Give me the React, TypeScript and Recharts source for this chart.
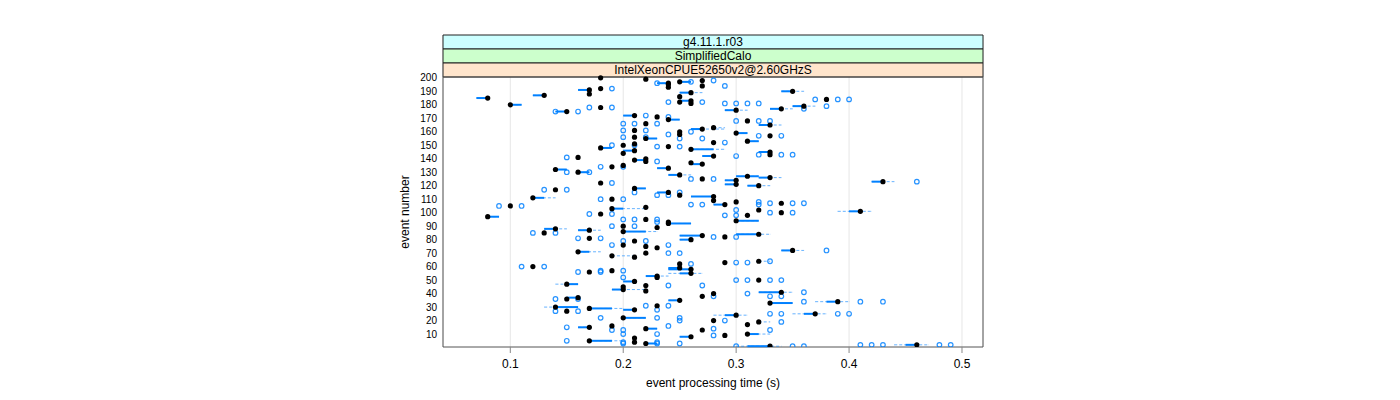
import {
  ScatterChart,
  Scatter,
  XAxis,
  YAxis,
  CartesianGrid,
  ReferenceArea,
  ErrorBar,
  Label,
} from "recharts";

const timeTicks = [0.1, 0.2, 0.3, 0.4, 0.5];
const eventTicks = [10, 20, 30, 40, 50, 60, 70, 80, 90, 100, 110, 120, 130, 140, 150, 160, 170, 180, 190, 200];

// top to bottom
const stripLabels = ["g4.11.1.r03", "SimplifiedCalo", "IntelXeonCPUE52650v2@2.60GHzS"];
const stripColors = ["#ccffff", "#ccffcc", "#ffe5cc"];

// [event, median, boxLow?, boxHigh?, whiskerLow?, whiskerHigh?]
const eventStats: number[][] = [
  [200, 0.18], [199, 0.22], [198, 0.27], [197, 0.25, 0.25, 0.26], [196, 0.24, 0.23, 0.24],
  [195, 0.24], [194, 0.27], [193, 0.24], [192, 0.18], [191, 0.17, 0.16, 0.17],
  [190, 0.35, 0.34, 0.35, 0.34, 0.36], [189, 0.26, 0.25, 0.26, 0.25, 0.27], [188, 0.17],
  [187, 0.13, 0.12, 0.13], [186, 0.25], [185, 0.08, 0.07, 0.08], [184, 0.38],
  [183, 0.26, 0.25, 0.26], [182, 0.25], [181, 0.26], [180, 0.1, 0.1, 0.11],
  [179, 0.36, 0.35, 0.36, 0.35, 0.37], [178, 0.18], [177, 0.34, 0.33, 0.34, 0.33, 0.35],
  [176, 0.3, 0.29, 0.3, 0.29, 0.31], [175, 0.15, 0.14, 0.15], [172, 0.21, 0.2, 0.21],
  [171, 0.23], [169, 0.24, 0.24, 0.25], [168, 0.31], [166, 0.22],
  [165, 0.33, 0.32, 0.33, 0.32, 0.34], [163, 0.28, 0.28, 0.28, 0.28, 0.29],
  [162, 0.27, 0.26, 0.27, 0.26, 0.29], [161, 0.21], [160, 0.25], [159, 0.3, 0.3, 0.31],
  [158, 0.25], [157, 0.33], [156, 0.21], [155, 0.22, 0.22, 0.23], [153, 0.31, 0.31, 0.32],
  [152, 0.28], [151, 0.21], [150, 0.2], [149, 0.24], [148, 0.18, 0.18, 0.19],
  [147, 0.26, 0.26, 0.28, 0.26, 0.29], [146, 0.21, 0.2, 0.21], [145, 0.33, 0.32, 0.33],
  [144, 0.2], [143, 0.33], [142, 0.28, 0.27, 0.28], [141, 0.16], [140, 0.22],
  [139, 0.21, 0.21, 0.22], [138, 0.22], [137, 0.26], [136, 0.27, 0.26, 0.27], [135, 0.2],
  [134, 0.19], [133, 0.24, 0.23, 0.24], [132, 0.14, 0.14, 0.15], [130, 0.16, 0.16, 0.17],
  [128, 0.25, 0.24, 0.25, 0.24, 0.26], [127, 0.31, 0.3, 0.32], [126, 0.33, 0.32, 0.33, 0.32, 0.34],
  [125, 0.27], [124, 0.3, 0.29, 0.3], [123, 0.43, 0.42, 0.43, 0.42, 0.44], [122, 0.18],
  [121, 0.3, 0.29, 0.3], [120, 0.32, 0.31, 0.32, 0.31, 0.33], [118, 0.21, 0.21, 0.22],
  [117, 0.14], [115, 0.24, 0.23, 0.24], [113, 0.25], [112, 0.28, 0.26, 0.28],
  [111, 0.12, 0.12, 0.13, 0.12, 0.14], [110, 0.19], [109, 0.28], [108, 0.3], [107, 0.34],
  [106, 0.29, 0.28, 0.29], [105, 0.1], [104, 0.22], [103, 0.19, 0.19, 0.2, 0.19, 0.22],
  [102, 0.32], [101, 0.41, 0.4, 0.41, 0.39, 0.42], [100, 0.34], [99, 0.18], [98, 0.31],
  [97, 0.08, 0.08, 0.09], [95, 0.22], [94, 0.3, 0.3, 0.32], [93, 0.24], [92, 0.24, 0.24, 0.26],
  [90, 0.2], [89, 0.23], [88, 0.14, 0.13, 0.14, 0.13, 0.15], [87, 0.17, 0.16, 0.17, 0.16, 0.18],
  [86, 0.2, 0.2, 0.22, 0.2, 0.23], [85, 0.13], [84, 0.32, 0.3, 0.32, 0.3, 0.33],
  [83, 0.27, 0.25, 0.27], [82, 0.29], [81, 0.17], [80, 0.26, 0.25, 0.26], [79, 0.21],
  [76, 0.2], [75, 0.22], [74, 0.23], [72, 0.35, 0.34, 0.35, 0.34, 0.36],
  [71, 0.16, 0.16, 0.17, 0.16, 0.18], [70, 0.22], [68, 0.19, 0.19, 0.19, 0.19, 0.21], [67, 0.21],
  [64, 0.32, 0.32, 0.32, 0.32, 0.33], [63, 0.29], [62, 0.25], [60, 0.12], [59, 0.25, 0.24, 0.25],
  [58, 0.26, 0.24, 0.26], [57, 0.19], [56, 0.17], [55, 0.26, 0.25, 0.26, 0.24, 0.27],
  [53, 0.23, 0.22, 0.23, 0.22, 0.24], [52, 0.23], [50, 0.32], [49, 0.21, 0.2, 0.21],
  [47, 0.15, 0.15, 0.16, 0.14, 0.16], [46, 0.22], [45, 0.2], [43, 0.2, 0.19, 0.2, 0.19, 0.22],
  [42, 0.22], [41, 0.34, 0.32, 0.34, 0.32, 0.35], [40, 0.28], [38, 0.27], [37, 0.16, 0.15, 0.16],
  [36, 0.15], [35, 0.25, 0.24, 0.25], [34, 0.39, 0.38, 0.39, 0.37, 0.4], [33, 0.33, 0.33, 0.35],
  [31, 0.23], [30, 0.14, 0.14, 0.16, 0.13, 0.16], [29, 0.17, 0.17, 0.19, 0.17, 0.2],
  [28, 0.21, 0.2, 0.21], [27, 0.15], [25, 0.37, 0.36, 0.37, 0.35, 0.38],
  [24, 0.3, 0.29, 0.3, 0.28, 0.31], [22, 0.2, 0.2, 0.22], [20, 0.28],
  [19, 0.32, 0.32, 0.32, 0.32, 0.33], [17, 0.31], [16, 0.19], [15, 0.17, 0.16, 0.17],
  [14, 0.22, 0.22, 0.23], [13, 0.27], [10, 0.31, 0.31, 0.32, 0.31, 0.33], [9, 0.29],
  [8, 0.26, 0.25, 0.26], [7, 0.21], [5, 0.17, 0.17, 0.19, 0.17, 0.2], [4, 0.21],
  [3, 0.22, 0.22, 0.23], [2, 0.46, 0.45, 0.46, 0.44, 0.47], [1, 0.33, 0.31, 0.33, 0.3, 0.34],
];

// [event, time]
const outliers: [number, number][] = [
  [198, 0.28], [197, 0.26], [196, 0.23], [194, 0.29], [192, 0.19],
  [184, 0.37], [184, 0.39], [184, 0.4], [182, 0.24], [182, 0.27],
  [181, 0.29], [181, 0.3], [181, 0.31], [181, 0.32], [179, 0.38],
  [178, 0.17], [178, 0.19], [177, 0.36], [175, 0.14], [175, 0.16],
  [172, 0.22], [171, 0.24], [168, 0.3], [168, 0.32], [168, 0.33],
  [166, 0.2], [166, 0.21], [166, 0.23], [161, 0.2], [161, 0.22],
  [160, 0.26], [158, 0.24], [157, 0.32], [157, 0.34], [156, 0.2],
  [156, 0.22], [155, 0.25], [155, 0.27], [152, 0.29], [150, 0.19],
  [150, 0.21], [149, 0.23], [149, 0.25], [143, 0.32], [143, 0.34],
  [143, 0.35], [142, 0.3], [141, 0.15], [138, 0.23], [134, 0.18],
  [134, 0.2], [130, 0.15], [130, 0.17], [125, 0.26], [125, 0.28],
  [123, 0.46], [122, 0.19], [117, 0.13], [117, 0.15], [115, 0.21],
  [115, 0.25], [113, 0.23], [113, 0.24], [110, 0.18], [110, 0.2],
  [108, 0.32], [107, 0.33], [107, 0.35], [107, 0.36], [106, 0.26],
  [106, 0.27], [106, 0.32], [105, 0.09], [105, 0.11], [102, 0.3],
  [100, 0.33], [100, 0.35], [99, 0.17], [99, 0.19], [98, 0.29],
  [98, 0.3], [95, 0.2], [95, 0.21], [95, 0.23], [93, 0.23],
  [90, 0.19], [90, 0.21], [85, 0.12], [85, 0.14], [82, 0.28],
  [82, 0.3], [81, 0.16], [81, 0.18], [79, 0.2], [79, 0.22],
  [76, 0.19], [76, 0.24], [72, 0.38], [70, 0.24], [70, 0.25],
  [64, 0.33], [63, 0.3], [63, 0.31], [62, 0.26], [60, 0.11],
  [60, 0.13], [57, 0.18], [57, 0.2], [56, 0.16], [56, 0.18],
  [52, 0.2], [50, 0.3], [50, 0.31], [50, 0.33], [50, 0.34],
  [46, 0.24], [46, 0.27], [41, 0.36], [40, 0.31], [38, 0.28],
  [38, 0.33], [38, 0.34], [36, 0.14], [36, 0.16], [34, 0.36],
  [34, 0.41], [34, 0.43], [31, 0.22], [31, 0.24], [28, 0.23],
  [27, 0.14], [27, 0.16], [25, 0.33], [25, 0.34], [25, 0.39],
  [25, 0.4], [22, 0.18], [22, 0.23], [22, 0.25], [20, 0.25],
  [20, 0.29], [19, 0.34], [16, 0.24], [15, 0.15], [14, 0.28],
  [13, 0.19], [13, 0.2], [13, 0.33], [10, 0.2], [10, 0.23],
  [9, 0.28], [5, 0.15], [4, 0.2], [4, 0.23], [3, 0.2],
  [3, 0.23], [3, 0.25], [2, 0.41], [2, 0.42], [2, 0.43],
  [2, 0.48], [2, 0.49], [1, 0.3], [1, 0.35], [1, 0.36],
];

const X_DOMAIN: [number, number] = [0.0404, 0.5186];
const PANEL_PX = 270;
const STRIP_PX = 14;
const Y_MIN = 0.4;
const Y_PANEL_MAX = 200.6;
const stripUnits = (STRIP_PX * (Y_PANEL_MAX - Y_MIN)) / PANEL_PX;
const Y_MAX = Y_PANEL_MAX + stripLabels.length * stripUnits;

const BLUE = "#0080ff";

const statRows = eventStats.map(([e, m, q1 = m, q3 = m, wl = q1, wh = q3]) => ({
  e,
  t: m,
  box: [m - q1, q3 - m],
  whisker: [m - wl, wh - m],
}));
const outlierRows = outliers.map(([e, t]) => ({ e, t }));

const Empty = () => <g />;
const MedianDot = (p: any) => <circle cx={p.cx} cy={p.cy} r={2.6} fill="#000" />;
const OutlierRing = (p: any) => (
  <circle cx={p.cx} cy={p.cy} r={2.3} fill="none" stroke={BLUE} strokeWidth={1.2} strokeOpacity={0.85} />
);

export default function App() {
  return (
    <div style={{ width: 1400, height: 400, fontFamily: "'Liberation Sans', Arial, sans-serif" }}>
      <style>{"body{margin:0}"}</style>
      <ScatterChart width={1400} height={400} margin={{ top: 35, right: 417, bottom: 0, left: 383 }}>
        <CartesianGrid horizontal={false} stroke="#e6e6e6" />
        <XAxis
          type="number"
          dataKey="t"
          domain={X_DOMAIN}
          allowDataOverflow
          ticks={timeTicks}
          interval={0}
          height={53}
          axisLine={false}
          tickLine={{ stroke: "#888" }}
          tickSize={6}
          tickMargin={6}
          tick={{ fontSize: 12, fill: "#000" }}
        >
          <Label value="event processing time (s)" position="insideBottom" offset={13} fontSize={12} fill="#000" />
        </XAxis>
        <XAxis
          xAxisId="top"
          orientation="top"
          type="number"
          dataKey="t"
          domain={X_DOMAIN}
          allowDataOverflow
          ticks={timeTicks}
          interval={0}
          height={0}
          axisLine={false}
          tickLine={{ stroke: "#888" }}
          tickSize={6}
          tick={false}
        />
        <YAxis
          type="number"
          dataKey="e"
          domain={[Y_MIN, Y_MAX]}
          allowDataOverflow
          ticks={eventTicks}
          interval={0}
          width={60}
          axisLine={false}
          tickLine={false}
          tickSize={0}
          tickMargin={6}
          tick={{ fontSize: 10, fill: "#000" }}
        >
          <Label
            content={() => (
              <text x={409} y={212} transform="rotate(-90 409 212)" textAnchor="middle" fontSize={12} fill="#000">
                event number
              </text>
            )}
          />
        </YAxis>

        {stripLabels.map((s, i) => {
          const k = stripLabels.length - 1 - i;
          return (
            <ReferenceArea
              key={s}
              x1={X_DOMAIN[0]}
              x2={X_DOMAIN[1]}
              y1={Y_PANEL_MAX + k * stripUnits}
              y2={Y_PANEL_MAX + (k + 1) * stripUnits}
              fill={stripColors[i]}
              fillOpacity={1}
              stroke="#222"
              strokeWidth={1}
              label={{ value: s, position: "center", fill: "#000", fontSize: 12 }}
            />
          );
        })}
        <ReferenceArea
          x1={X_DOMAIN[0]}
          x2={X_DOMAIN[1]}
          y1={Y_MIN}
          y2={Y_PANEL_MAX}
          fill="none"
          stroke="#555"
          strokeWidth={1}
        />

        <Scatter data={statRows} shape={Empty} isAnimationActive={false}>
          <ErrorBar
            dataKey="whisker"
            direction="x"
            width={0}
            stroke={BLUE}
            strokeWidth={1}
            strokeOpacity={0.6}
            strokeDasharray="3 2"
            isAnimationActive={false}
          />
        </Scatter>
        <Scatter data={statRows} shape={Empty} isAnimationActive={false}>
          <ErrorBar dataKey="box" direction="x" width={0} stroke={BLUE} strokeWidth={2} isAnimationActive={false} />
        </Scatter>
        <Scatter data={outlierRows} shape={OutlierRing} isAnimationActive={false} />
        <Scatter data={statRows} shape={MedianDot} isAnimationActive={false} />
      </ScatterChart>
    </div>
  );
}
